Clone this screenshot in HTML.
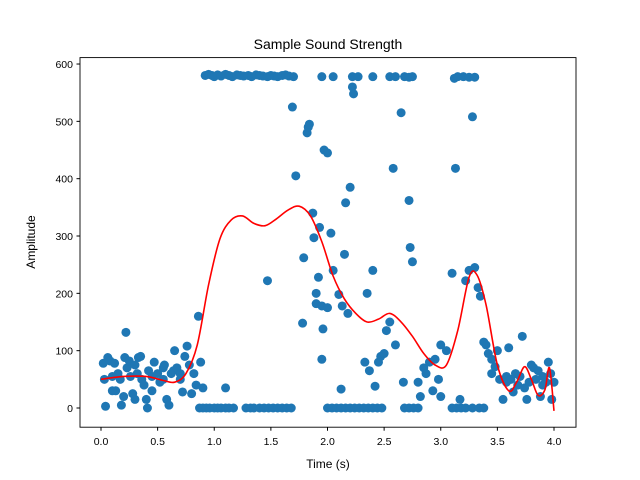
<!DOCTYPE html>
<html><head><meta charset="utf-8"><style>
body{margin:0;background:#fff}
svg{display:block;font-family:"Liberation Sans","DejaVu Sans",sans-serif}
</style></head><body>
<svg id="chart" width="640" height="480">
<rect width="640" height="480" fill="#fff"/>
<text x="328" y="49" font-size="14" text-anchor="middle">Sample Sound Strength</text>
<g id="points"></g>
<path id="curve" fill="none" stroke="red" stroke-width="1.6"/>
<rect x="80" y="57.6" width="496" height="369.6" fill="none" stroke="#000" stroke-width="0.9"/>
<g id="xticks"></g>
<g id="yticks"></g>
<text x="328" y="468" font-size="12" text-anchor="middle">Time (s)</text>
<text transform="translate(35,242) rotate(-90)" font-size="12" text-anchor="middle">Amplitude</text>
</svg>
<script>
const xTickVals=[0,0.5,1,1.5,2,2.5,3,3.5,4];
const xTickLabels=["0.0","0.5","1.0","1.5","2.0","2.5","3.0","3.5","4.0"];
const yTickVals=[0,100,200,300,400,500,600];
const pointX=[0.02,0.03,0.04,0.06,0.08,0.1,0.12,0.13,0.15,0.17,0.18,0.2,0.21,0.22,0.23,0.25,0.26,0.28,0.3,0.32,0.33,0.35,0.36,0.38,0.4,0.41,0.42,0.45,0.47,0.5,0.52,0.55,0.56,0.58,0.6,0.62,0.64,0.65,0.67,0.7,0.72,0.74,0.76,0.78,0.8,0.82,0.84,0.86,0.88,0.9,0.55,0.45,0.3,0.1,0.7,
0.92,0.95,0.98,1.0,1.03,1.06,1.1,1.13,1.16,1.2,1.23,1.26,1.3,1.33,1.37,1.4,1.43,1.47,1.5,1.53,1.56,1.6,1.63,1.66,1.7,1.95,2.05,2.22,2.27,2.4,2.55,2.6,2.68,2.72,2.75,3.12,3.15,3.2,3.25,3.3,
0.87,0.9,0.93,0.96,1.0,1.03,1.06,1.1,1.13,1.17,1.28,1.32,1.35,1.4,1.44,1.48,1.52,1.56,1.6,1.64,1.68,2.0,2.04,2.08,2.12,2.16,2.2,2.24,2.28,2.32,2.36,2.4,2.44,2.48,2.68,2.72,2.76,2.8,3.1,3.14,3.18,3.22,3.28,3.34,3.38,
1.1,1.47,1.69,1.72,1.78,1.79,1.82,1.83,1.84,1.87,1.88,1.9,1.9,1.92,1.93,1.95,1.95,1.96,1.97,2.0,2.0,2.03,2.05,2.1,2.12,2.13,2.15,2.16,2.18,2.2,2.22,2.23,2.33,2.35,2.37,2.4,2.42,2.45,2.47,2.5,2.52,2.55,2.58,2.6,2.65,2.67,2.72,2.73,2.75,2.8,2.82,2.85,2.87,2.9,2.95,2.93,2.98,3.0,3.05,3.0,3.1,3.13,3.17,3.22,3.25,3.28,3.3,3.33,3.35,3.38,3.4,3.42,3.45,3.48,3.5,3.52,3.55,3.58,3.6,3.62,3.64,3.66,3.68,3.7,3.72,3.74,3.76,3.78,3.8,3.82,3.84,3.86,3.88,3.9,3.93,3.95,3.97,3.98,4.0,3.45,3.58,3.9];
const pointY=[78,50,3,88,82,55,78,30,60,50,5,20,88,132,70,82,55,25,15,60,88,90,50,40,15,0,65,55,80,60,45,70,75,15,5,60,65,100,70,50,28,90,108,75,25,60,40,160,80,35,50,30,75,30,60,
580,582,580,578,581,579,582,580,578,581,580,579,580,578,581,580,579,578,580,579,578,580,581,579,578,578,578,578,578,578,578,578,578,577,578,575,578,578,577,577,
0,0,0,0,0,0,0,0,0,0,0,0,0,0,0,0,0,0,0,0,0,0,0,0,0,0,0,0,0,0,0,0,0,0,0,0,0,0,0,0,0,0,0,0,0,
35,222,525,405,148,262,480,490,495,340,297,200,182,228,315,178,85,138,450,445,175,305,240,198,33,178,268,358,165,385,560,548,80,200,65,240,38,80,90,95,135,150,418,110,515,45,362,280,255,45,20,70,60,80,85,30,50,110,100,20,235,418,15,222,240,508,245,210,195,115,110,95,60,72,100,50,15,55,105,50,28,60,40,55,125,35,15,45,75,70,50,65,20,40,45,80,60,15,45,85,45,55];
const curveX=[0,0.2,0.4,0.55,0.65,0.75,0.85,0.95,1.05,1.15,1.25,1.35,1.45,1.55,1.65,1.75,1.85,1.95,2.05,2.15,2.25,2.35,2.45,2.55,2.65,2.75,2.85,2.95,3.05,3.15,3.25,3.32,3.4,3.5,3.6,3.67,3.74,3.8,3.86,3.92,3.96,4.0];
const curveY=[50,55,55,48,45,60,110,215,295,328,335,322,318,330,345,352,335,290,230,190,165,150,155,165,150,125,95,75,75,135,228,232,180,75,30,45,72,50,22,32,70,-5];
const sx=v=>101+v*113.25, sy=v=>408-v*0.5733;
const NS="http://www.w3.org/2000/svg";
const pg=document.getElementById('points');
for(let i=0;i<pointX.length;i++){const c=document.createElementNS(NS,'circle');
c.setAttribute('cx',sx(pointX[i]));c.setAttribute('cy',sy(pointY[i]));c.setAttribute('r',4.5);c.setAttribute('fill','#1f77b4');


pg.appendChild(c);}
const P=curveX.map((x,i)=>[sx(x),sy(curveY[i])]);
let d=`M${P[0][0]},${P[0][1]}`;
for(let i=0;i<P.length-1;i++){const p0=P[Math.max(0,i-1)],p1=P[i],p2=P[i+1],p3=P[Math.min(P.length-1,i+2)];
d+=` C${p1[0]+(p2[0]-p0[0])/6},${p1[1]+(p2[1]-p0[1])/6} ${p2[0]-(p3[0]-p1[0])/6},${p2[1]-(p3[1]-p1[1])/6} ${p2[0]},${p2[1]}`;}
document.getElementById('curve').setAttribute('d',d);
const xg=document.getElementById('xticks');
xTickVals.forEach((v,i)=>{const x=sx(v);
const l=document.createElementNS(NS,'line');l.setAttribute('x1',x);l.setAttribute('x2',x);l.setAttribute('y1',427.2);l.setAttribute('y2',430.7);l.setAttribute('stroke','#000');


xg.appendChild(l);
const t=document.createElementNS(NS,'text');t.setAttribute('x',x);t.setAttribute('y',445);t.setAttribute('font-size','10.5');t.setAttribute('text-anchor','middle');t.textContent=xTickLabels[i];


xg.appendChild(t);});
const yg=document.getElementById('yticks');
yTickVals.forEach(v=>{const y=sy(v);
const l=document.createElementNS(NS,'line');l.setAttribute('x1',76.5);l.setAttribute('x2',80);l.setAttribute('y1',y);l.setAttribute('y2',y);l.setAttribute('stroke','#000');


yg.appendChild(l);
const t=document.createElementNS(NS,'text');t.setAttribute('x',73);t.setAttribute('y',y+4);t.setAttribute('font-size','10.5');t.setAttribute('text-anchor','end');t.textContent=v;


yg.appendChild(t);});
</script>
</body></html>
